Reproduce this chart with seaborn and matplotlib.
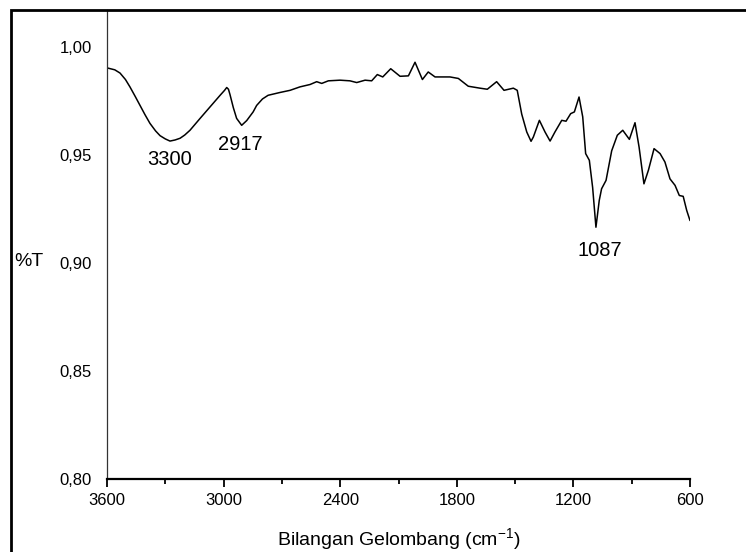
import matplotlib
matplotlib.use("Agg")
import matplotlib.pyplot as plt
from matplotlib.patches import Rectangle
from matplotlib.ticker import FixedLocator, FuncFormatter
import numpy as np
import pandas as pd
import seaborn as sns

# FTIR transmittance spectrum (wavenumber in cm^-1, transmittance fraction)
wavenumber = [
    3600, 3560, 3533, 3505, 3482, 3455, 3430, 3405, 3379, 3350, 3327, 3300,
    3276, 3250, 3224, 3200, 3173, 3121, 3070, 3018, 2995, 2984, 2975, 2967,
    2950, 2933, 2907, 2881, 2848, 2830, 2800, 2771, 2710, 2658, 2607, 2555,
    2521, 2495, 2461, 2401, 2350, 2315, 2272, 2238, 2209, 2181, 2140, 2092,
    2049, 2015, 1977, 1947, 1912, 1835, 1792, 1741, 1681, 1643, 1595, 1557,
    1509, 1489, 1466, 1440, 1418, 1406, 1375, 1346, 1320, 1295, 1260, 1238,
    1214, 1195, 1171, 1152, 1137, 1118, 1101, 1084, 1067, 1055, 1032, 1003,
    974, 946, 912, 883, 862, 837, 814, 785, 754, 729, 703, 677, 655, 635,
    617, 600,
]
transmittance = [
    0.9904, 0.9895, 0.9880, 0.9850, 0.9816, 0.9772, 0.9730, 0.9688, 0.9647,
    0.9612, 0.9590, 0.9575, 0.9565, 0.9570, 0.9578, 0.9593, 0.9615, 0.9670,
    0.9723, 0.9777, 0.9800, 0.9813, 0.9805, 0.9780, 0.9720, 0.9670, 0.9638,
    0.9660, 0.9700, 0.9730, 0.9760, 0.9777, 0.9790, 0.9800, 0.9816, 0.9827,
    0.9840, 0.9832, 0.9844, 0.9847, 0.9844, 0.9836, 0.9847, 0.9844, 0.9873,
    0.9862, 0.9900, 0.9865, 0.9867, 0.9930, 0.9850, 0.9885, 0.9862, 0.9862,
    0.9855, 0.9819, 0.9810, 0.9805, 0.9840, 0.9800, 0.9810, 0.9800, 0.9690,
    0.9607, 0.9564, 0.9584, 0.9661, 0.9607, 0.9565, 0.9607, 0.9661, 0.9657,
    0.9692, 0.9700, 0.9769, 0.9677, 0.9507, 0.9476, 0.9350, 0.9166, 0.9290,
    0.9344, 0.9383, 0.9520, 0.9592, 0.9615, 0.9573, 0.9650, 0.9537, 0.9367,
    0.9430, 0.9530, 0.9507, 0.9468, 0.9390, 0.9360, 0.9313, 0.9309, 0.9244,
    0.9197,
]

# Labelled absorption bands: (text, wavenumber, transmittance of text baseline)
peak_labels = ["3300", "2917", "1087"]
peak_label_x = [3276, 2916, 1063]
peak_label_y = [0.9452, 0.9522, 0.9035]

x_major = [3600, 3000, 2400, 1800, 1200, 600]
x_minor = [3300, 2700, 2100, 1500, 900]
y_ticks = [0.80, 0.85, 0.90, 0.95, 1.00]

sns.set_style("white")
plt.rcParams["font.family"] = ["Liberation Sans", "DejaVu Sans"]
plt.rcParams["mathtext.default"] = "regular"
plt.rcParams["text.color"] = "black"
plt.rcParams["axes.labelcolor"] = "black"
plt.rcParams["xtick.color"] = "black"
plt.rcParams["ytick.color"] = "black"

W, H = 746, 552
fig = plt.figure(figsize=(W / 100, H / 100), dpi=100)
left, right, top, bottom = 107, 690, 10, 479
ax = fig.add_axes([left / W, 1 - bottom / H, (right - left) / W, (bottom - top) / H])

df = pd.DataFrame({"wn": wavenumber, "T": transmittance})
sns.lineplot(data=df, x="wn", y="T", ax=ax, color="black", linewidth=1.1,
             sort=False, estimator=None)

ax.set_xlim(3600, 600)
ax.set_ylim(0.80, 1.0172)

ax.xaxis.set_major_locator(FixedLocator(x_major))
ax.xaxis.set_minor_locator(FixedLocator(x_minor))
ax.xaxis.set_major_formatter(FuncFormatter(lambda v, p: f"{v:.0f}"))
ax.yaxis.set_major_locator(FixedLocator(y_ticks))
ax.yaxis.set_major_formatter(FuncFormatter(lambda v, p: f"{v:.2f}".replace(".", ",")))

ax.tick_params(axis="x", which="major", direction="out", length=6, width=1.3,
               color="black", labelcolor="black", labelsize=12, pad=4, bottom=True)
ax.tick_params(axis="x", which="minor", direction="out", length=3.5, width=1.3,
               color="black", bottom=True)
ax.tick_params(axis="y", which="both", length=0, labelsize=12, pad=11,
               labelcolor="black")

for s in ["top", "right"]:
    ax.spines[s].set_visible(False)
ax.spines["left"].set_color("#333333")
ax.spines["left"].set_linewidth(0.9)
ax.spines["bottom"].set_color("black")
ax.spines["bottom"].set_linewidth(1.6)

ax.set_xlabel("Bilangan Gelombang (cm$^{-1}$)", fontsize=14, va="baseline",
              color="black")
ax.xaxis.set_label_coords(0.5, (bottom - 545) / (bottom - top))
ax.set_ylabel("%T", fontsize=14, rotation=0, ha="left", va="center", color="black")
ax.yaxis.set_label_coords((14 - left) / (right - left), (bottom - 262) / (bottom - top))

for txt, px, py in zip(peak_labels, peak_label_x, peak_label_y):
    ax.text(px, py, txt, fontsize=14.5, ha="center", va="baseline", color="black")

# outer frame around the figure
fig.add_artist(Rectangle((11 / W, -0.05), 1.1, 1 - 10 / H + 0.05,
                         transform=fig.transFigure, fill=False,
                         edgecolor="black", linewidth=2, clip_on=False))

fig.savefig("out.png", dpi=100)
